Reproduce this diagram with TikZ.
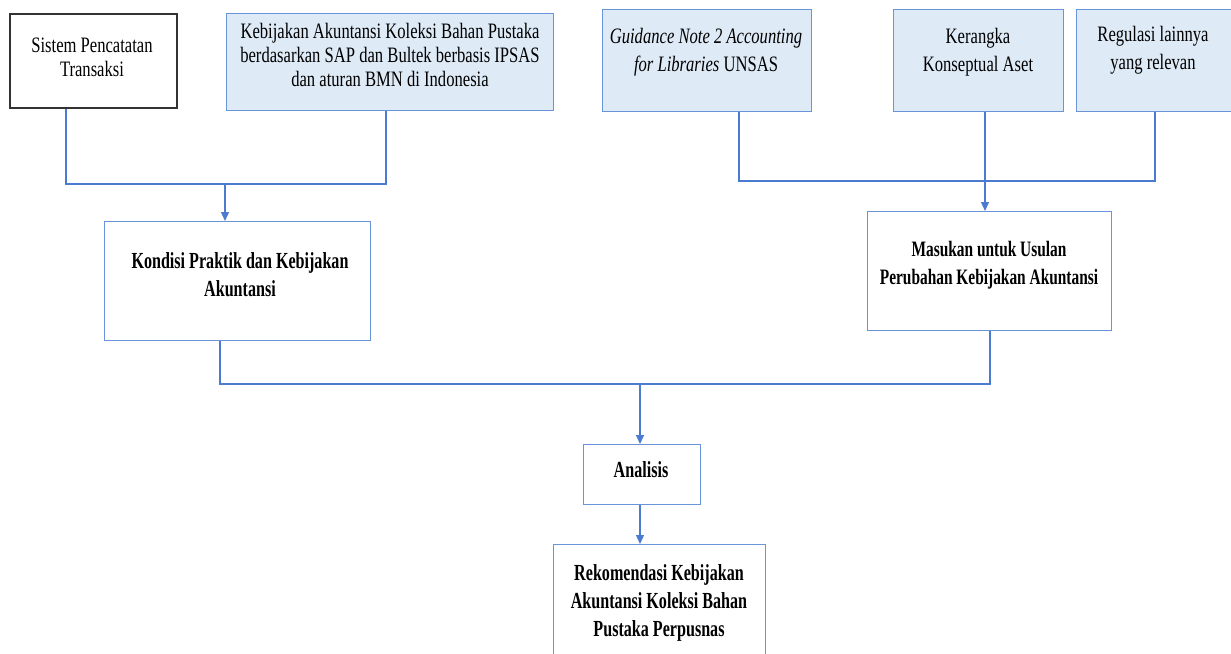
\documentclass[tikz,border=0pt]{standalone}
\usepackage{fontspec}
\setmainfont{Liberation Serif}[FakeStretch=0.755,BoldFeatures={FakeStretch=0.70},BoldItalicFeatures={FakeStretch=0.70}]
\usetikzlibrary{arrows.meta,calc}
\definecolor{ln}{HTML}{4A7BD0}
\definecolor{bd}{HTML}{6A94DA}
\definecolor{fl}{HTML}{DEEAF6}
\begin{document}
\begin{tikzpicture}[x=1pt,y=-1pt,
  box/.style={draw=bd, line width=1.3pt, fill=white, inner sep=0pt, anchor=north west},
  bluebox/.style={box, fill=fl},
  blackbox/.style={box, draw=black!80, line width=1.5pt},
  txt/.style={align=center, inner sep=0pt, font=\fontsize{22}{24}\selectfont},
  gtxt/.style={align=center, inner sep=0pt, font=\fontsize{22}{28}\selectfont},
  btxt/.style={align=center, inner sep=0pt, font=\bfseries\fontsize{23}{28}\selectfont},
  conn/.style={draw=ln, line width=1.3pt},
  arr/.style={conn, -{Triangle[length=9pt,width=8pt]}}]
\useasboundingbox (0,0) rectangle (1231,653);
% boxes
\node[blackbox, minimum width=167pt, minimum height=94pt] (sis) at (9,13) {};
\node[bluebox, minimum width=327pt, minimum height=97pt] (keb) at (226,13) {};
\node[bluebox, minimum width=209pt, minimum height=102pt] (gui) at (602,9) {};
\node[bluebox, minimum width=170pt, minimum height=102pt] (ker) at (893,9) {};
\node[bluebox, minimum width=170pt, minimum height=102pt] (reg) at (1076,9) {};
\node[box, minimum width=266pt, minimum height=119pt] (kon) at (104,221) {};
\node[box, minimum width=244pt, minimum height=119pt] (mas) at (867,211) {};
\node[box, minimum width=117pt, minimum height=60pt] (ana) at (583,444) {};
\node[box, minimum width=212pt, minimum height=130pt] (rek) at (553,544) {};
% texts
\node[txt] (sisT) at (92,57) {Sistem Pencatatan\\Transaksi};
\node[txt] (kebT) at (390,55) {Kebijakan Akuntansi Koleksi Bahan Pustaka\\berdasarkan SAP dan Bultek berbasis IPSAS\\dan aturan BMN di Indonesia};
\node[gtxt] (guiT) at (706,52) {\textit{Guidance Note 2 Accounting}\\\textit{for Libraries} UNSAS};
\node[gtxt] (kerT) at (978,52) {Kerangka\\Konseptual Aset};
\node[gtxt] (regT) at (1153,50) {Regulasi lainnya\\yang relevan};
\node[btxt] (konT) at (240,275) {Kondisi Praktik dan Kebijakan\\Akuntansi};
\node[btxt, font=\bfseries\fontsize{22}{28}\selectfont] (masT) at (989,265) {Masukan untuk Usulan\\Perubahan Kebijakan Akuntansi};
\node[btxt] (anaT) at (641,470) {Analisis};
\node[btxt] (rekT) at (659,603) {Rekomendasi Kebijakan\\Akuntansi Koleksi Bahan\\Pustaka Perpusnas};
% connectors
\coordinate (j1) at (225,184);
\draw[conn] ([xshift=57pt]sis.south west) |- (j1) -| ([xshift=160pt]keb.south west);
\draw[arr] (j1) -- (j1 |- kon.north);
\coordinate (j2) at (985,181);
\draw[conn] ([xshift=137pt]gui.south west) |- (j2) -| ([xshift=79pt]reg.south west);
\coordinate (k1) at ([xshift=92pt]ker.south west);
\draw[arr] (k1) -- (k1 |- mas.north);
\coordinate (j3) at (640,384);
\draw[conn] ([xshift=116pt]kon.south west) |- (j3) -| ([xshift=123pt]mas.south west);
\draw[arr] (j3) -- (j3 |- ana.north);
\draw[arr] (j3 |- ana.south) -- (j3 |- rek.north);
\end{tikzpicture}
\end{document}
